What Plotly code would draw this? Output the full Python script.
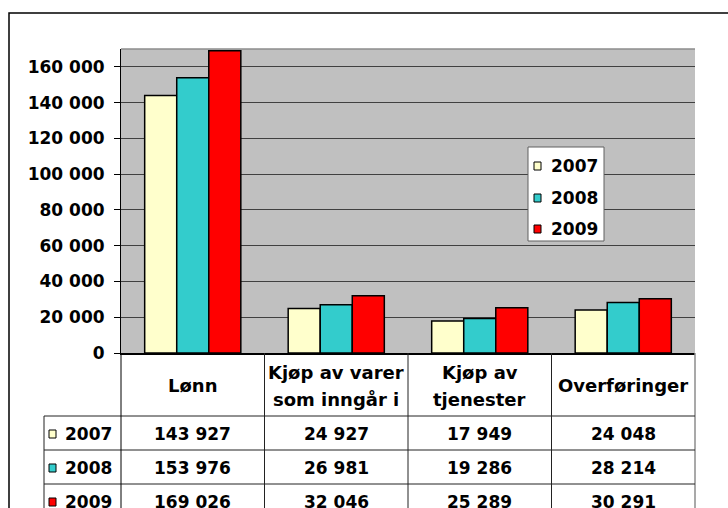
import plotly.graph_objects as go

# ---- data ----
categories = ["Lønn", "Kjøp av varer<br>som inngår i", "Kjøp av<br>tjenester", "Overføringer"]
years = ["2007", "2008", "2009"]
values_2007 = [143927, 24927, 17949, 24048]
values_2008 = [153976, 26981, 19286, 28214]
values_2009 = [169026, 32046, 25289, 30291]
y_ticks = [0, 20000, 40000, 60000, 80000, 100000, 120000, 140000, 160000]

series = [values_2007, values_2008, values_2009]
colors = ["#FFFFCC", "#33CCCC", "#FF0000"]

W, H = 728, 508
L, R, T, B = 121, 695, 49, 353   # plot area in pixels
FONT = "DejaVu Sans"


def px(x):
    return (x - L) / (R - L)


def py(y):
    return (B - y) / (B - T)


def fmt(v):
    return f"{v:,}".replace(",", " ")


x_idx = list(range(len(categories)))

fig = go.Figure()
for name, vals, col in zip(years, series, colors):
    fig.add_trace(go.Bar(
        x=x_idx, y=vals, name=name,
        marker=dict(color=col, line=dict(color="black", width=1.5)),
        showlegend=False,
    ))

shapes = []
annotations = []

# outer chart border (extends beyond canvas on right/bottom)
shapes.append(dict(type="rect", xref="paper", yref="paper",
                   x0=px(9), y0=py(13), x1=px(800), y1=py(600),
                   line=dict(color="black", width=1.5), layer="below"))
# plot border top/right (gray)
shapes.append(dict(type="line", xref="paper", yref="paper",
                   x0=0, x1=1, y0=1, y1=1, line=dict(color="#8C8C8C", width=1.5)))
shapes.append(dict(type="line", xref="paper", yref="paper",
                   x0=1, x1=1, y0=0, y1=py(520), line=dict(color="#8C8C8C", width=1.5)))

# ---- data table ----
row_tops = [416, 450, 484]
row_h = 34
line_col = "#222222"
table_left = 44
for yt in row_tops:
    shapes.append(dict(type="line", xref="paper", yref="paper",
                       x0=px(table_left), x1=1, y0=py(yt), y1=py(yt),
                       line=dict(color=line_col, width=1)))
shapes.append(dict(type="line", xref="paper", yref="paper",
                   x0=px(table_left), x1=px(table_left), y0=py(416), y1=py(520),
                   line=dict(color=line_col, width=1)))
shapes.append(dict(type="line", xref="paper", yref="paper",
                   x0=0, x1=0, y0=0, y1=py(520),
                   line=dict(color="black", width=1)))
for i in range(1, len(categories)):
    shapes.append(dict(type="line", xref="x", yref="paper",
                       x0=i - 0.5, x1=i - 0.5, y0=0, y1=py(520),
                       line=dict(color=line_col, width=1)))

# header texts
header_center = 385.5
line_gap = 27
for i, cat in enumerate(categories):
    lines = cat.split("<br>")
    n = len(lines)
    for k, ln in enumerate(lines):
        yc = header_center + (k - (n - 1) / 2) * line_gap
        annotations.append(dict(xref="x", yref="paper", x=i, y=py(yc),
                                text=ln, showarrow=False, xanchor="center", yanchor="middle",
                                font=dict(family=FONT, size=18, color="black", weight="bold")))

# rows
for r, (name, vals, col) in enumerate(zip(years, series, colors)):
    yc = row_tops[r] + row_h / 2 + 1
    shapes.append(dict(type="rect", xref="paper", yref="paper",
                       x0=px(49), x1=px(56), y0=py(yc - 4), y1=py(yc + 4),
                       fillcolor=col, line=dict(color="black", width=1)))
    annotations.append(dict(xref="paper", yref="paper", x=px(63), y=py(yc),
                            text=name, showarrow=False, xanchor="left", yanchor="middle",
                            font=dict(family=FONT, size=17, color="black", weight="bold")))
    for i, v in enumerate(vals):
        annotations.append(dict(xref="x", yref="paper", x=i, y=py(yc),
                                text=fmt(v), showarrow=False, xanchor="center", yanchor="middle",
                                font=dict(family=FONT, size=17, color="black", weight="bold")))

# ---- legend box ----
shapes.append(dict(type="rect", xref="paper", yref="paper",
                   x0=px(528), x1=px(604), y0=py(147), y1=py(241),
                   fillcolor="white", line=dict(color="#606060", width=1)))
leg_centers = [166, 198, 229]
for name, col, yc in zip(years, colors, leg_centers):
    shapes.append(dict(type="rect", xref="paper", yref="paper",
                       x0=px(534), x1=px(541), y0=py(yc - 4), y1=py(yc + 4),
                       fillcolor=col, line=dict(color="black", width=1)))
    annotations.append(dict(xref="paper", yref="paper", x=px(549), y=py(yc),
                            text=name, showarrow=False, xanchor="left", yanchor="middle",
                            font=dict(family=FONT, size=17, color="black", weight="bold")))

fig.update_layout(
    width=W, height=H,
    margin=dict(l=L, r=W - R, t=T, b=H - B, pad=0),
    paper_bgcolor="white",
    plot_bgcolor="#C0C0C0",
    barmode="group",
    bargap=0.33,
    bargroupgap=0,
    separators=", ",
    font=dict(family=FONT, size=17, color="black", weight="bold"),
    xaxis=dict(range=[-0.5, len(categories) - 0.5], showticklabels=False, showgrid=False,
               zeroline=False, showline=True, linecolor="black", linewidth=1.5, ticks=""),
    yaxis=dict(range=[0, 170000], tickvals=y_ticks, tickformat=",d",
               showgrid=True, gridcolor="#404040", gridwidth=1,
               zeroline=False, showline=True, linecolor="black", linewidth=1,
               ticks="outside", ticklen=6, tickcolor="black", ticklabelstandoff=6,
               tickfont=dict(family=FONT, size=17, color="black", weight="bold")),
    shapes=shapes,
    annotations=annotations,
)

fig.write_html(
    "out.html",
    config={"displayModeBar": False},
    post_script="document.body.style.margin='0';document.body.style.overflow='hidden';",
)
